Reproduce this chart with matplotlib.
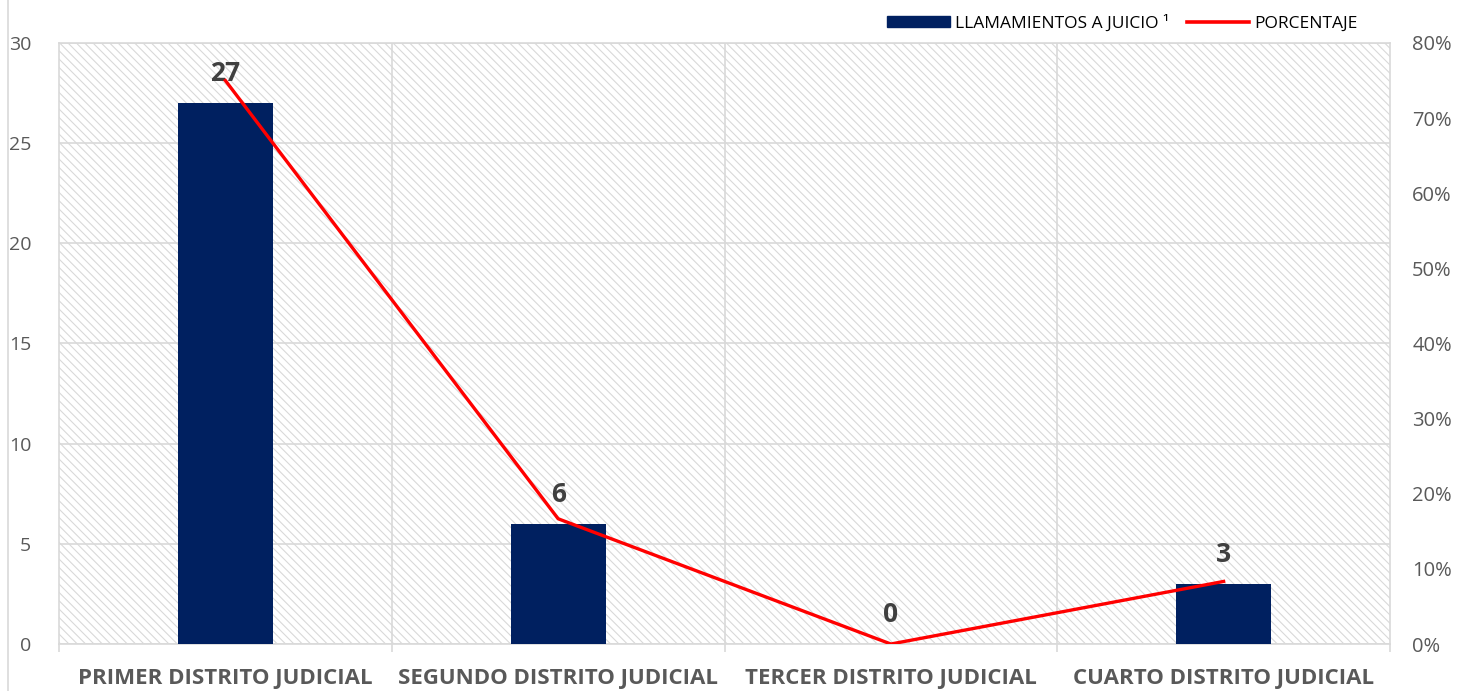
import matplotlib
matplotlib.use("Agg")
import matplotlib.pyplot as plt
from matplotlib.patches import Rectangle, Patch
from matplotlib.lines import Line2D
from matplotlib.ticker import PercentFormatter

# Data
districts = ["PRIMER DISTRITO JUDICIAL", "SEGUNDO DISTRITO JUDICIAL",
             "TERCER DISTRITO JUDICIAL", "CUARTO DISTRITO JUDICIAL"]
llamamientos = [27, 6, 0, 3]
porcentaje = [0.75, 0.1667, 0.0, 0.0833]

navy = "#002060"
grid_c = "#d9d9d9"
text_c = "#595959"

plt.rcParams["font.family"] = ["Open Sans", "DejaVu Sans"]
plt.rcParams["hatch.linewidth"] = 0.8
plt.rcParams["hatch.color"] = grid_c

fig = plt.figure(figsize=(14.61, 6.91), dpi=100)
ax = fig.add_axes([0.0404, 0.068, 0.911, 0.8698])

x = list(range(len(districts)))

# hatched background of the plot area
ax.add_patch(Rectangle((0, 0), 1, 1, transform=ax.transAxes, facecolor="white",
                       edgecolor=grid_c, hatch="\\" * 4, lw=0, zorder=0))

ax.bar(x, llamamientos, width=0.285, color=navy, zorder=3)
for xi, v in zip(x, llamamientos):
    ax.annotate(str(v), (xi, v), xytext=(0, 21), textcoords="offset points",
                ha="center", va="center", fontsize=19, fontweight="bold",
                color="#404040", zorder=6)

ax.set_xlim(-0.5, 3.5)
ax.set_ylim(0, 30)
ax.set_yticks(range(0, 31, 5))
ax.yaxis.grid(True, color=grid_c, lw=1.2, zorder=1)
for b in [0.5, 1.5, 2.5]:
    ax.axvline(b, color=grid_c, lw=1.2, zorder=1)

ax.set_xticks(x)
ax.set_xticklabels(districts, fontsize=16, fontweight="bold", color=text_c)
ax.tick_params(axis="x", length=0, pad=17)
ax.set_xticks([-0.5, 0.5, 1.5, 2.5, 3.5], minor=True)
ax.tick_params(axis="x", which="minor", length=6, color=grid_c, width=1.2)
ax.tick_params(axis="y", length=0, pad=20, labelsize=14, labelcolor=text_c)
for s in ax.spines.values():
    s.set_color(grid_c)
    s.set_linewidth(1.2)

ax2 = ax.twinx()
ax2.plot(x, porcentaje, color="#ff0000", lw=2.4, zorder=4)
ax2.set_ylim(0, 0.8)
ax2.set_yticks([i / 10 for i in range(9)])
ax2.yaxis.set_major_formatter(PercentFormatter(1.0, decimals=0))
ax2.tick_params(axis="y", length=0, pad=16, labelsize=14.5, labelcolor=text_c)
for s in ax2.spines.values():
    s.set_visible(False)

handles = [Patch(facecolor=navy, edgecolor=navy),
           Line2D([0], [0], color="#ff0000", lw=2.6)]
fig.legend(handles, ["LLAMAMIENTOS A JUICIO \u00b9", "PORCENTAJE"],
           loc="center right", bbox_to_anchor=(0.94, 0.967), ncol=2,
           frameon=False, fontsize=12.5, handlelength=3.6, handleheight=0.6,
           columnspacing=1.0, handletextpad=0.3)

# thin border line at the left edge
fig.add_artist(Line2D([0.0055, 0.0055], [0, 1], color=grid_c, lw=1.2,
                      transform=fig.transFigure))

fig.savefig("out.png", dpi=100, facecolor="white")
